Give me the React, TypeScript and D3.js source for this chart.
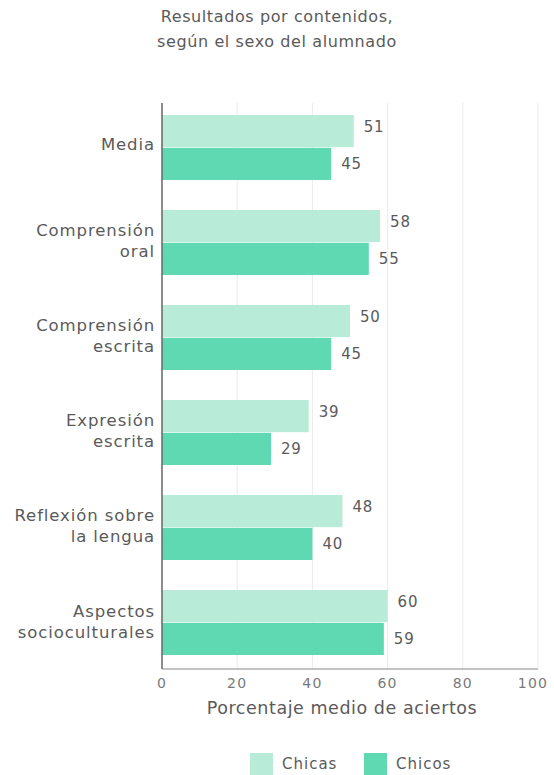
import React from "react";
import * as d3 from "d3";

const categories: string[][] = [
  ["Media"],
  ["Comprensión", "oral"],
  ["Comprensión", "escrita"],
  ["Expresión", "escrita"],
  ["Reflexión sobre", "la lengua"],
  ["Aspectos", "socioculturales"],
];
const seriesNames = ["Chicas", "Chicos"];
const chicas = [51, 58, 50, 39, 48, 60];
const chicos = [45, 55, 45, 29, 40, 59];
const xTicks = [0, 20, 40, 60, 80, 100];
const titleLines = ["Resultados por contenidos,", "según el sexo del alumnado"];
const xTitle = "Porcentaje medio de aciertos";

const colors = ["#b9ebd9", "#5fd9b2"];
const textColor = "#5a5a5a";
const font = "'DejaVu Sans', sans-serif";

export default function App() {
  const W = 554, H = 775;
  const x = d3.scaleLinear().domain([0, 100]).range([162, 538]);
  const keys = categories.map((c) => c.join(" "));
  const y = d3.scaleBand<string>().domain(keys).range([115, 655]).paddingInner(0.316).paddingOuter(0);
  const ySub = d3.scaleBand<string>().domain(seriesNames).range([0, y.bandwidth()]).paddingInner(0.02);
  const values = [chicas, chicos];
  const top = 103, bottom = 669;

  return (
    <svg width={W} height={H} style={{ position: "absolute", left: 0, top: 0, background: "#fff" }} fontFamily={font}>
      {titleLines.map((t, i) => (
        <text key={i} x={277} y={17 + i * 25} textAnchor="middle" dominantBaseline="middle" fontSize={16} letterSpacing={0.6} fill={textColor}>{t}</text>
      ))}
      {xTicks.filter((t) => t > 0).map((t) => (
        <line key={t} x1={x(t)} x2={x(t)} y1={top} y2={bottom} stroke="#ebebeb" strokeWidth={1} />
      ))}
      {keys.map((k, i) => (
        <g key={k} transform={`translate(0,${y(k)})`}>
          {seriesNames.map((s, j) => {
            const v = values[j][i];
            const by = ySub(s)!;
            const bh = ySub.bandwidth();
            return (
              <g key={s}>
                <rect x={x(0)} y={by} width={x(v) - x(0)} height={bh} fill={colors[j]} />
                <text x={x(v) + 10} y={by + bh / 2 + (j === 0 ? -4 : 1)} dominantBaseline="middle" fontSize={15} letterSpacing={0.8} fill={textColor}>{v}</text>
              </g>
            );
          })}
          {categories[i].map((line, li) => {
            const n = categories[i].length;
            const cy = y.bandwidth() / 2 + (n === 1 ? -2 : (li - 0.5) * 21);
            return (
              <text key={li} x={155} y={cy} textAnchor="end" dominantBaseline="middle" fontSize={16.5} letterSpacing={0.9} fill={textColor}>{line}</text>
            );
          })}
        </g>
      ))}
      <line x1={x(0)} x2={x(0)} y1={top} y2={bottom} stroke="#666" strokeWidth={1.5} />
      <line x1={x(0)} x2={x(100)} y1={bottom} y2={bottom} stroke="#888" strokeWidth={1.2} />
      {xTicks.map((t) => (
        <text key={t} x={t === 100 ? x(t) - 5 : x(t)} y={684} textAnchor="middle" dominantBaseline="middle" fontSize={14} letterSpacing={1.2} fill="#7a7a7a">{t}</text>
      ))}
      <text x={x(50) - 8} y={709} textAnchor="middle" dominantBaseline="middle" fontSize={17.5} letterSpacing={0.55} fill={textColor}>{xTitle}</text>
      {seriesNames.map((s, j) => {
        const lx = [250, 364][j];
        return (
          <g key={s}>
            <rect x={lx} y={753} width={23} height={22} fill={colors[j]} />
            <text x={lx + 32} y={764} dominantBaseline="middle" fontSize={15} letterSpacing={1} fill={textColor}>{s}</text>
          </g>
        );
      })}
    </svg>
  );
}
